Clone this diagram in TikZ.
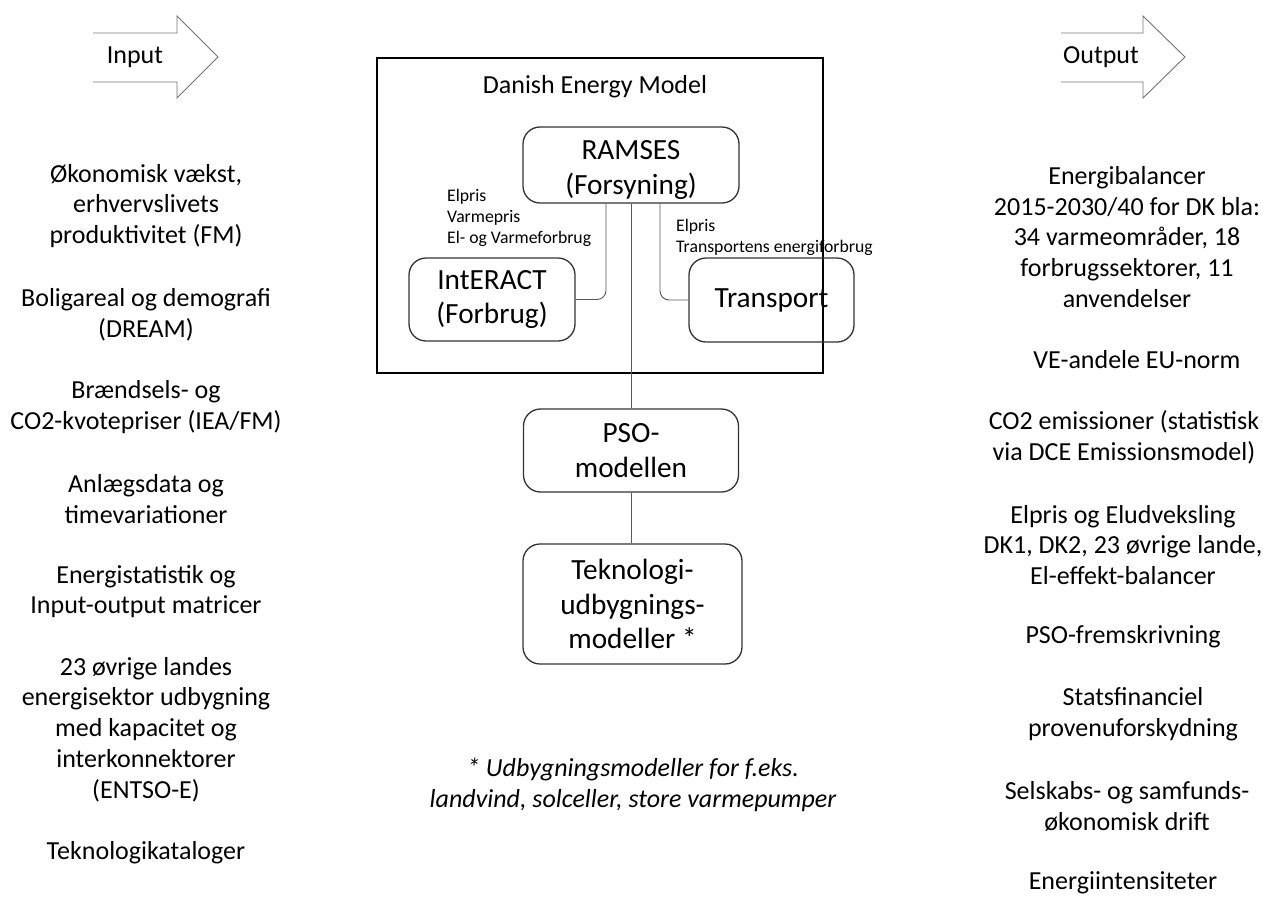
\documentclass[tikz,border=0pt]{standalone}
\usepackage{fontspec}
\setmainfont{Carlito}
\begin{document}
\begin{tikzpicture}[x=1pt,y=-1pt,
  side/.style={align=center,font=\fontsize{26}{30.8}\selectfont,inner sep=0pt},
  model/.style={draw=black!80,line width=1.3pt,rounded corners=17pt,align=center,
    font=\fontsize{29.3}{34.5}\selectfont,inner sep=0pt},
  modeltext/.style={align=center,font=\fontsize{29.3}{34.5}\selectfont,inner sep=0pt},
  small/.style={align=left,font=\fontsize{17.7}{21.2}\selectfont,inner sep=0pt,anchor=north west},
  conn/.style={draw=black!65,line width=0.9pt,rounded corners=9pt},
  bigarrow/.style={draw=black!55,line width=0.9pt,line join=miter}]
\useasboundingbox (0,0) rectangle (1263,898);

% input / output arrows
\draw[bigarrow] (93,33) -- (177,33) -- (177,16) -- (218,57) -- (177,98) -- (177,82) -- (93,82);
\node[side] (inlbl) at (135,57) {Input};
\draw[bigarrow] (1061,33) -- (1143,33) -- (1143,16) -- (1185,57) -- (1143,98) -- (1143,82) -- (1061,82);
\node[side] (outlbl) at (1101,57) {Output};

% Danish Energy Model box
\node[draw=black,line width=2pt,minimum width=446pt,minimum height=315pt,inner sep=0pt] (dem) at (600,215.5) {};
\node[side] (demlbl) at (595,87) {Danish Energy Model};

\node[model,minimum width=216pt,minimum height=76pt] (ramses) at (631,165) {};
\node[modeltext] (ramseslbl) at (631,170) {RAMSES\\(Forsyning)};
\node[model,minimum width=166pt,minimum height=83pt] (interact) at (492,299.5) {IntERACT\\(Forbrug)};
\node[model,minimum width=165pt,minimum height=84pt] (transport) at (771.5,300) {Transport};
\node[model,minimum width=215pt,minimum height=83pt] (pso) at (631,450.5) {PSO-\\modellen};
\node[model,minimum width=219pt,minimum height=120pt] (tekno) at (632.5,604) {Teknologi-\\udbygnings-\\modeller *};

\draw[conn] ([xshift=-25pt]ramses.south) |- (interact.east);
\draw[conn] ([xshift=29pt]ramses.south) |- (transport.west);
\draw[conn] (ramses.south) -- (ramses.south |- pso.north);
\draw[conn] (pso.south) -- (pso.south |- tekno.north);

\node[small] (lblL) at (447,189) {Elpris\\Varmepris\\El- og Varmeforbrug};
\node[small] (lblR) at (676,219) {Elpris\\Transportens energiforbrug};

% footnote
\node[side,font=\fontsize{26}{30.8}\selectfont\itshape] (foot) at (633,785) {* Udbygningsmodeller for f.eks.\\landvind, solceller, store varmepumper};

% inputs
\node[side] (i1) at (146,206) {Økonomisk vækst,\\erhvervslivets\\produktivitet (FM)};
\node[side] (i2) at (146,314.5) {Boligareal og demografi\\(DREAM)};
\node[side] (i3) at (146,407) {Brændsels- og\\CO2-kvotepriser (IEA/FM)};
\node[side] (i4) at (146,499) {Anlægsdata og\\timevariationer};
\node[side] (i5) at (146,591.5) {Energistatistik og\\Input-output matricer};
\node[side] (i6) at (146,729.5) {23 øvrige landes\\energisektor udbygning\\med kapacitet og\\interkonnektorer\\(ENTSO-E)};
\node[side] (i7) at (146,853) {Teknologikataloger};

% outputs
\node[side] (o1) at (1127,237) {Energibalancer\\2015-2030/40 for DK bla:\\34 varmeområder, 18\\forbrugssektorer, 11\\anvendelser};
\node[side] (o2) at (1137,360) {VE-andele EU-norm};
\node[side] (o3) at (1124,437.5) {CO2 emissioner (statistisk\\via DCE Emissionsmodel)};
\node[side] (o4) at (1123,545) {Elpris og Eludveksling\\DK1, DK2, 23 øvrige lande,\\El-effekt-balancer};
\node[side] (o5) at (1123,637) {PSO-fremskrivning};
\node[side] (o6) at (1133,714.5) {Statsfinanciel\\provenuforskydning};
\node[side] (o7) at (1127,806.5) {Selskabs- og samfunds-\\økonomisk drift};
\node[side] (o8) at (1123,883) {Energiintensiteter};
\end{tikzpicture}
\end{document}
